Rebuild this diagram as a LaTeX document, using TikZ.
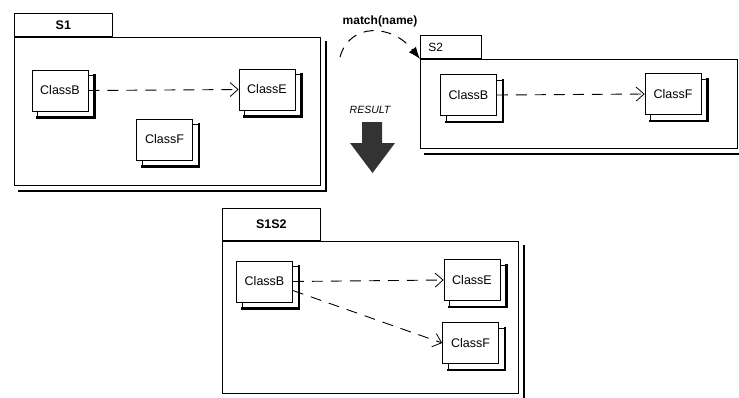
\documentclass[tikz,border=0pt]{standalone}
\usepackage{fontspec}
\setmainfont{Liberation Sans}
\usetikzlibrary{arrows.meta, positioning}

\begin{document}
\begin{tikzpicture}[x=1pt, y=1pt, >=Latex,
    classbox/.style={draw, fill=white, line width=0.7pt, inner sep=0pt,
        minimum width=56pt, minimum height=41pt,
        font=\fontsize{12.5}{14}\selectfont},
    pkgbody/.style={draw, fill=white, line width=0.7pt, inner sep=0pt, anchor=north west},
    pkgtab/.style={draw, fill=white, line width=0.7pt, inner sep=0pt, anchor=south west,
        minimum height=23pt, font=\bfseries\fontsize{12.5}{14}\selectfont},
    shadowline/.style={line width=2.6pt, line cap=rect},
    dep/.style={line width=0.9pt, dash pattern=on 11pt off 8pt,
        -{Straight Barb[length=8pt, width=14pt, line width=0.8pt]}}]
    \useasboundingbox (0,0) rectangle (739,-397);

    % 1. Packages
    \node[pkgbody, minimum width=306pt, minimum height=148pt] (S1) at (14,-37) {};
    \node[pkgtab, minimum width=98pt] (S1tab) at (S1.north west) {S1};
    \node[pkgbody, minimum width=317pt, minimum height=89pt] (S2) at (420,-59) {};
    \node[pkgtab, minimum width=61pt, text width=45pt, align=left,
        font=\fontsize{12}{14}\selectfont] (S2tab) at (S2.north west) {S2};
    \node[pkgbody, minimum width=296pt, minimum height=152pt] (S12) at (222,-241) {};
    \node[pkgtab, minimum width=98pt, minimum height=32pt] (S12tab) at (S12.north west) {S1S2};
    \foreach \p in {S1,S2,S12}
        \draw[shadowline, line width=2pt] ([shift={(5pt,-5pt)}]\p.north east)
            -- ([shift={(5pt,-5pt)}]\p.south east) -- ([shift={(5pt,-5pt)}]\p.south west);

    % 2. Classes
    \node[classbox] (B1) at (60,-90.5) {ClassB};
    \node[classbox] (E1) at (267,-89.5) {ClassE};
    \node[classbox] (F1) at (164.5,-139.5) {ClassF};
    \node[classbox] (B2) at (468.5,-95) {ClassB};
    \node[classbox] (F2) at (673,-94) {ClassF};
    \node[classbox] (B3) at (264.5,-281.5) {ClassB};
    \node[classbox] (E3) at (472,-280) {ClassE};
    \node[classbox] (F3) at (470.5,-343) {ClassF};
    \foreach \c in {B1,E1,F1,B2,F2,B3,E3,F3} {
        \draw[thin] ([yshift=-6pt]\c.north east) -- ([shift={(6pt,-6pt)}]\c.north east);
        \draw[thin] ([xshift=6pt]\c.south west) -- ([shift={(6pt,-6pt)}]\c.south west);
        \draw[shadowline] ([shift={(6pt,-6pt)}]\c.north east)
            -- ([shift={(6pt,-6pt)}]\c.south east) -- ([shift={(6pt,-6pt)}]\c.south west);
    }

    % 3. Dependencies
    \draw[dep] (B1.east) -- (E1.west);
    \draw[dep] (B2.east) -- (F2.west);
    \draw[dep] (B3.east) -- (E3.west);
    \draw[dep] ([yshift=-9pt]B3.east) -- (F3.west);

    % 4. match(name) and RESULT
    \node[font=\bfseries\fontsize{12}{14}\selectfont] (match) at (380,-21) {match(name)};
    \coordinate (m1) at (340,-57);
    \draw[line width=1pt, dash pattern=on 10pt off 8pt, -{Latex[length=12pt, width=9pt]}]
        (m1) .. controls (350,-22) and (392,-24) .. (S2.north west);
    \node[font=\itshape\fontsize{10.5}{12}\selectfont] (result) at (370,-110) {RESULT};
    \fill[black!80] (362,-122) -- (382,-122) -- (382,-143) -- (395,-143)
        -- (372.5,-173) -- (350,-143) -- (362,-143) -- cycle;
\end{tikzpicture}
\end{document}
